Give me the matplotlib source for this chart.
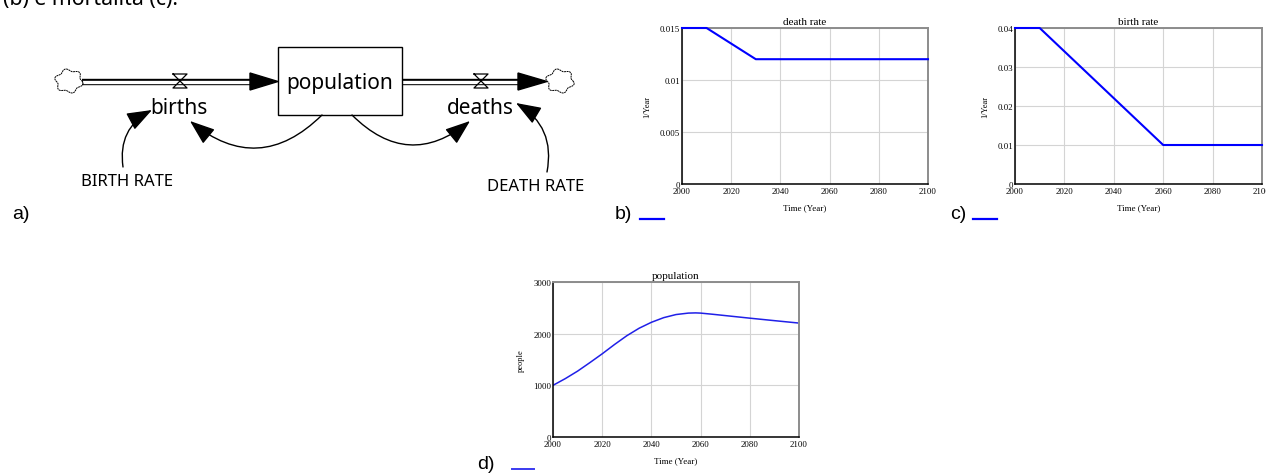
import numpy as np
import matplotlib
matplotlib.use("Agg")
import matplotlib.pyplot as plt
from matplotlib.patches import Polygon, Rectangle, FancyArrowPatch, ArrowStyle

# ---------------- data ----------------
years_death = [2000, 2010, 2030, 2100]
death_rate = [0.015, 0.015, 0.012, 0.012]

years_birth = [2000, 2010, 2060, 2100]
birth_rate = [0.04, 0.04, 0.01, 0.01]

years_pop = [2000, 2005, 2010, 2015, 2020, 2025, 2030, 2035, 2040, 2045,
             2050, 2055, 2058, 2060, 2065, 2070, 2080, 2090, 2100]
population = [1000, 1130, 1275, 1440, 1610, 1790, 1960, 2105, 2220, 2310,
              2370, 2398, 2402, 2398, 2375, 2350, 2300, 2252, 2205]

x_ticks = [2000, 2020, 2040, 2060, 2080, 2100]
death_ticks = [0, 0.005, 0.01, 0.015]
death_ticklabels = ["0", "0.005", "0.01", "0.015"]
birth_ticks = [0, 0.01, 0.02, 0.03, 0.04]
birth_ticklabels = ["0", "0.01", "0.02", "0.03", "0.04"]
pop_ticks = [0, 1000, 2000, 3000]
pop_ticklabels = ["0", "1000", "2000", "3000"]

W, H = 1266, 477
fig = plt.figure(figsize=(W / 100, H / 100), dpi=100)

# overlay axes in pixel coordinates for the stock-flow diagram
ov = fig.add_axes([0, 0, 1, 1])
ov.set_xlim(0, W)
ov.set_ylim(H, 0)
ov.axis("off")

SANS = ["Noto Sans", "DejaVu Sans"]
LAB = ["Liberation Sans", "DejaVu Sans"]
SERIF = ["Liberation Serif", "DejaVu Serif"]

# caption cut off at top
ov.text(3, 5, "(b) e mortalità (c).", family=SANS, fontsize=15.3, ha="left", va="baseline")

# pipes
def pipe(x0, x1, y):
    ov.plot([x0, x1], [y, y], color="black", lw=4.6, solid_capstyle="butt", zorder=2)
    ov.plot([x0, x1], [y, y], color="white", lw=2.4, solid_capstyle="butt", zorder=3)

pipe(82, 252, 82.5)
pipe(402, 520, 82.5)
ov.add_patch(Polygon([[250, 74], [278, 82.5], [250, 91]], closed=True, color="black", zorder=4))
ov.add_patch(Polygon([[518, 74], [547, 82.5], [518, 91]], closed=True, color="black", zorder=4))

# valves
def valve(xc):
    ov.plot([xc - 7, xc + 7, xc - 7, xc + 7, xc - 7], [75, 75, 89, 89, 75], color="black", lw=0.9, zorder=5)

valve(180)
valve(481)

# clouds
def cloud(xc, yc):
    t = np.linspace(0, 2 * np.pi, 200)
    r = 1 + 0.12 * np.sin(6 * t)
    ov.plot(xc + 13 * r * np.cos(t), yc + 11 * r * np.sin(t), color="black", lw=0.7, ls=(0, (2, 0.6)), zorder=5)

cloud(69, 82)
cloud(560, 82)

# stock box
ov.add_patch(Rectangle((278, 48), 124, 68, fill=False, ec="black", lw=1.0, zorder=5))
ov.text(340, 83, "population", family=SANS, fontsize=15, ha="center", va="center", zorder=6)
ov.text(179, 108, "births", family=SANS, fontsize=15, ha="center", va="center", zorder=6)
ov.text(480, 108, "deaths", family=SANS, fontsize=15, ha="center", va="center", zorder=6)
ov.text(127, 182, "BIRTH RATE", family=SANS, fontsize=12, ha="center", va="center")
ov.text(536, 187, "DEATH RATE", family=SANS, fontsize=12, ha="center", va="center")

style = ArrowStyle("-|>", head_length=1.3, head_width=0.48)
def carrow(p0, p1, rad):
    a = FancyArrowPatch(p0, p1, arrowstyle=style, mutation_scale=12, connectionstyle=f"arc3,rad={rad}",
                        color="black", lw=1.0, shrinkA=0, shrinkB=0, zorder=6)
    ov.add_patch(a)

carrow((123, 168), (152, 111), -0.35)
carrow((322, 116), (190, 122), -0.45)
carrow((352, 116), (470, 122), 0.45)
carrow((547, 173), (516, 104), 0.35)

# panel labels
ov.text(12, 215, "a)", family=LAB, fontsize=14, ha="left", va="center")
ov.text(615, 215, "b)", family=LAB, fontsize=14, ha="left", va="center")
ov.plot([640, 664], [220, 220], color="#0000ff", lw=1.6)
ov.text(950, 215, "c)", family=LAB, fontsize=14, ha="left", va="center")
ov.plot([973, 997], [220, 220], color="#0000ff", lw=1.6)
ov.text(477, 465, "d)", family=LAB, fontsize=14, ha="left", va="center")
ov.plot([512, 534], [470, 470], color="#3a3af0", lw=1.4)

# ---------------- charts ----------------
def make_ax(px0, px1, py0, py1):
    return fig.add_axes([px0 / W, 1 - py1 / H, (px1 - px0) / W, (py1 - py0) / H])

def style_ax(ax, title, ylabel, yticks, yticklabels, ylim):
    ax.set_xlim(2000, 2100)
    ax.set_ylim(*ylim)
    ax.set_xticks(x_ticks)
    ax.set_xticklabels([str(v) for v in x_ticks], family=SERIF, fontsize=6.3)
    ax.set_yticks(yticks)
    ax.set_yticklabels(yticklabels, family=SERIF, fontsize=6.3)
    ax.tick_params(axis="y", length=0, pad=1.2)
    ax.tick_params(axis="x", length=0, pad=2.0)
    ax.grid(True, color="#d4d4d4", lw=0.8)
    ax.set_axisbelow(True)
    for s in ("left", "bottom"):
        ax.spines[s].set_color("black")
        ax.spines[s].set_linewidth(1.1)
    for s in ("top", "right"):
        ax.spines[s].set_color("#8c8c8c")
        ax.spines[s].set_linewidth(1.4)
    ax.set_title(title, family=SERIF, fontsize=8, pad=3)
    ax.set_ylabel(ylabel, family=SERIF, fontsize=6, labelpad=6)
    ax.set_xlabel("Time (Year)", family=SERIF, fontsize=6.5, labelpad=6)
    ax.set_facecolor("white")

axb = make_ax(682, 928, 29, 185)
axb.plot(years_death, death_rate, color="#0000ff", lw=1.5, clip_on=False, zorder=5)
style_ax(axb, "death rate", "1/Year", death_ticks, death_ticklabels, (0, 0.015))

axc = make_ax(1015, 1262, 29, 185)
axc.plot(years_birth, birth_rate, color="#0000ff", lw=1.5, clip_on=False, zorder=5)
style_ax(axc, "birth rate", "1/Year", birth_ticks, birth_ticklabels, (0, 0.04))

axd = make_ax(553, 799, 283, 438)
axd.plot(years_pop, population, color="#2020e8", lw=1.1)
style_ax(axd, "population", "people", pop_ticks, pop_ticklabels, (0, 3000))

fig.savefig("out.png", dpi=100)
